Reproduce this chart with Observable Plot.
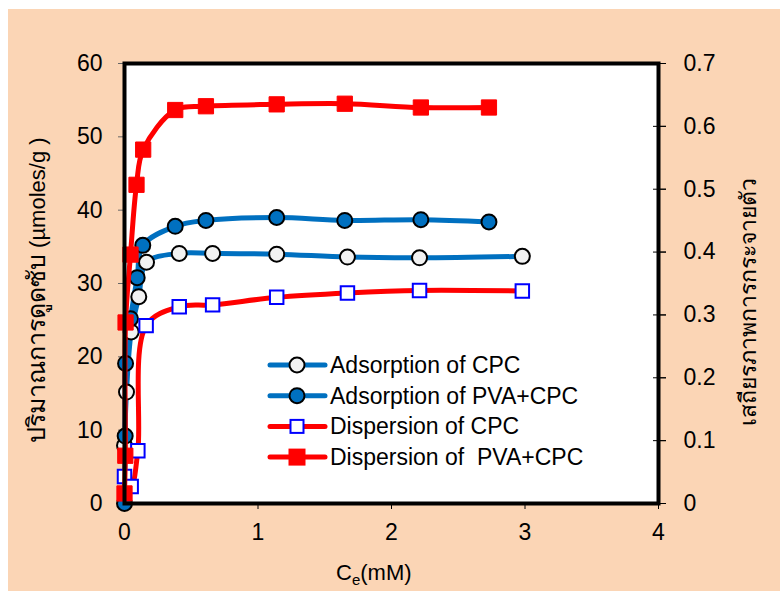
<!DOCTYPE html>
<html>
<head>
<meta charset="utf-8">
<script src="https://cdn.jsdelivr.net/npm/d3@7"></script>
<script src="https://cdn.jsdelivr.net/npm/@observablehq/plot@0.6"></script>
<style>
  html, body { margin: 0; padding: 0; background: #ffffff; }
  #page { position: relative; width: 780px; height: 592px; overflow: hidden; font-family: "Liberation Sans", Arial, sans-serif; }
  #bg { position: absolute; left: 8px; top: 9px; width: 772px; height: 582px; background: #FBD5B5; }
  #chart { position: absolute; left: 0; top: 0; }
  .title { position: absolute; color: #000; white-space: pre; line-height: 1.2; }
</style>
</head>
<body>
<div id="page">
  <div id="bg"></div>
  <div id="chart"></div>
</div>
<script>
// ---- data ----
const seriesNames = ["Adsorption of CPC", "Adsorption of PVA+CPC", "Dispersion of CPC", "Dispersion of  PVA+CPC"];

// Adsorption (left axis, µmoles/g)
const adsCPC_x = [0.0, 0.015, 0.05, 0.107, 0.165, 0.41, 0.66, 1.14, 1.67, 2.21, 2.98];
const adsCPC_y = [7.9, 15.2, 23.4, 28.2, 32.9, 34.1, 34.1, 34.0, 33.6, 33.5, 33.7];

const adsPVA_x = [0.0, 0.005, 0.008, 0.045, 0.095, 0.137, 0.38, 0.61, 1.14, 1.65, 2.22, 2.73];
const adsPVA_y = [0.0, 9.2, 19.1, 25.2, 30.8, 35.2, 37.8, 38.6, 39.0, 38.6, 38.7, 38.4];

// Dispersion stability (right axis)
const dispCPC_x = [0.0, 0.05, 0.1, 0.162, 0.41, 0.66, 1.14, 1.67, 2.21, 2.98];
const dispCPC_y = [0.043, 0.027, 0.084, 0.283, 0.313, 0.316, 0.328, 0.335, 0.339, 0.338];

const dispPVA_x = [0.0, 0.006, 0.008, 0.045, 0.09, 0.14, 0.38, 0.61, 1.14, 1.65, 2.22, 2.73];
const dispPVA_y = [0.016, 0.076, 0.288, 0.396, 0.507, 0.563, 0.626, 0.632, 0.635, 0.636, 0.630, 0.630];

const xTicks = [0, 1, 2, 3, 4];
const leftTicks = [0, 10, 20, 30, 40, 50, 60];
const rightTicks = [0, 0.1, 0.2, 0.3, 0.4, 0.5, 0.6, 0.7];

const leftTitleThai = "ปริมาณการดูดซับ";
const leftTitleUnit = " (µmoles/g )";
const rightTitle = "เสถียรภาพการกระจายตัว";

// ---- build ----
const K = 60 / 0.7; // right axis -> left axis units
const pts = (xs, ys) => xs.map((x, i) => ({x, y: ys[i]}));
const ads1 = pts(adsCPC_x, adsCPC_y);
const ads2 = pts(adsPVA_x, adsPVA_y);
const disp1 = pts(dispCPC_x, dispCPC_y);
const disp2 = pts(dispPVA_x, dispPVA_y);

const BLUE = "#0070C0", RED = "#FF0000";
const ry = d => d.y * K;

const plot = Plot.plot({
  width: 780, height: 592,
  marginLeft: 124, marginRight: 122, marginTop: 63, marginBottom: 89,
  style: {background: "transparent", fontFamily: "'Liberation Sans', Arial, sans-serif", fontSize: "23px", color: "#000"},
  x: {domain: [0, 4]},
  y: {domain: [0, 60]},
  marks: [
    Plot.frame({fill: "white"}),
    Plot.axisX({ticks: xTicks, tickSize: 6, tickPadding: 14, label: null, tickFormat: d => String(d)}),
    Plot.axisY({anchor: "left", ticks: leftTicks, tickSize: 6, tickPadding: 16, label: null, stroke: "#666"}),
    Plot.axisY({anchor: "right", ticks: rightTicks.map(v => v * K), tickSize: 13, dx: -6, label: null, tickFormat: () => ""}),
    Plot.axisY({anchor: "right", ticks: rightTicks.map(v => v * K), tickSize: 7, tickPadding: 18, label: null,
                tickFormat: d => String(+(d / K).toFixed(1))}),
    Plot.line(ads1, {x: "x", y: "y", stroke: BLUE, strokeWidth: 5, curve: "catmull-rom"}),
    Plot.line(ads2, {x: "x", y: "y", stroke: BLUE, strokeWidth: 5, curve: "catmull-rom"}),
    Plot.dot(ads1, {x: "x", y: "y", r: 7.5, fill: "#F2F2F2", stroke: "#000", strokeWidth: 2}),
    Plot.dot(ads2, {x: "x", y: "y", r: 7.5, fill: BLUE, stroke: "#000", strokeWidth: 2}),
    Plot.line(disp1, {x: "x", y: ry, stroke: RED, strokeWidth: 5, curve: "catmull-rom"}),
    Plot.dot(disp1, {x: "x", y: ry, r: 7.6, symbol: "square", fill: "white", stroke: "#0000FF", strokeWidth: 2}),
    Plot.line(disp2, {x: "x", y: ry, stroke: RED, strokeWidth: 5, curve: "catmull-rom"}),
    Plot.dot(disp2, {x: "x", y: ry, r: 8.6, symbol: "square", fill: RED, stroke: RED, strokeWidth: 1}),
    Plot.frame({stroke: "#000", strokeWidth: 4})
  ]
});
document.getElementById("chart").appendChild(plot);

// ---- legend ----
const legend = d3.select("#page").append("svg")
  .attr("width", 360).attr("height", 130)
  .style("position", "absolute").style("left", "262px").style("top", "345px");
const rows = [
  {name: seriesNames[0], line: BLUE, kind: "circle", fill: "#F2F2F2", stroke: "#000"},
  {name: seriesNames[1], line: BLUE, kind: "circle", fill: BLUE, stroke: "#000"},
  {name: seriesNames[2], line: RED, kind: "square", fill: "white", stroke: "#0000FF", size: 13},
  {name: seriesNames[3], line: RED, kind: "square", fill: RED, stroke: RED, size: 15}
];
rows.forEach((r, i) => {
  const g = legend.append("g").attr("transform", `translate(0,${20 + i * 30.7})`);
  g.append("line").attr("x1", 8).attr("x2", 63).attr("y1", 0).attr("y2", 0)
    .attr("stroke", r.line).attr("stroke-width", 5).attr("stroke-linecap", "round");
  if (r.kind === "circle") {
    g.append("circle").attr("cx", 35).attr("cy", 0).attr("r", 7.5)
      .attr("fill", r.fill).attr("stroke", r.stroke).attr("stroke-width", 2);
  } else {
    g.append("rect").attr("x", 35 - r.size / 2).attr("y", -r.size / 2).attr("width", r.size).attr("height", r.size)
      .attr("fill", r.fill).attr("stroke", r.stroke).attr("stroke-width", 2);
  }
  g.append("text").attr("x", 68).attr("y", 0).attr("dy", "0.35em")
    .attr("font-family", "'Liberation Sans', Arial, sans-serif").attr("font-size", 23)
    .style("white-space", "pre")
    .attr("fill", "#000").text(r.name);
});

// ---- axis titles ----
const page = document.getElementById("page");
function addTitle(html, cx, cy, rot, size) {
  const d = document.createElement("div");
  d.className = "title";
  d.innerHTML = html;
  d.style.fontSize = size + "px";
  page.appendChild(d);
  const w = d.offsetWidth, h = d.offsetHeight;
  d.style.left = (cx - w / 2) + "px";
  d.style.top = (cy - h / 2) + "px";
  d.style.transform = `rotate(${rot}deg)`;
}
addTitle(`<span style="font-size:25px">${leftTitleThai}</span>${leftTitleUnit}`, 36, 290, -90, 22);
addTitle(rightTitle, 749, 302, -90, 23);
addTitle('C<sub style="font-size:15px">e</sub>(mM)', 374, 574, 0, 22);
</script>
</body>
</html>
